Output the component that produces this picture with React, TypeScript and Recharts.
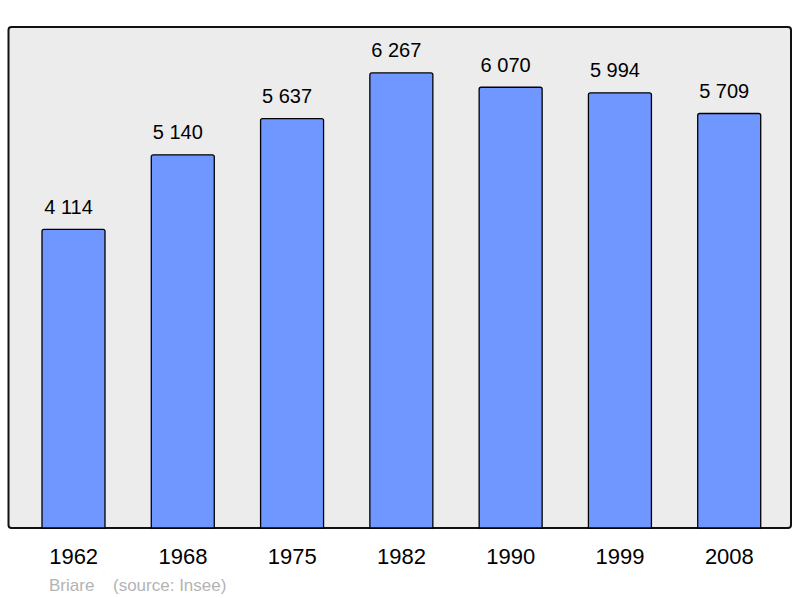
import React from 'react';
import { BarChart, Bar, XAxis, YAxis, CartesianGrid, LabelList, usePlotArea } from 'recharts';

const years = ['1962', '1968', '1975', '1982', '1990', '1999', '2008'];
const population = [4114, 5140, 5637, 6267, 6070, 5994, 5709];
const yDomain = [0, 6900];
const placeName = 'Briare';
const sourceText = '(source: Insee)';

const data = years.map((y, i) => ({ year: y, pop: population[i] }));

const fmt = (v: any) => String(v).replace(/\B(?=(\d{3})+(?!\d))/g, ' ');

const FONT = '"Liberation Sans", Arial, sans-serif';

function Frame() {
  const area = usePlotArea();
  if (!area) return null;
  return (
    <rect
      x={area.x - 0.5}
      y={area.y}
      width={area.width + 0.5}
      height={area.height}
      rx={3}
      ry={3}
      fill="none"
      stroke="#111"
      strokeWidth={2}
    />
  );
}

function Caption() {
  return (
    <text y={590.5} fontFamily={FONT} fontSize={17} fill="#b3b3b3">
      <tspan x={49}>{placeName}</tspan>
      <tspan x={113}>{sourceText}</tspan>
    </text>
  );
}

export default function App() {
  return (
    <div style={{ position: 'absolute', left: 0, top: 0, width: 800, height: 598, background: '#fff' }}>
      <BarChart
        width={800}
        height={598}
        data={data}
        margin={{ top: 27, right: 9, bottom: 30, left: 9 }}
        barSize={63}
      >
        <CartesianGrid fill="#ececec" horizontal={false} vertical={false} stroke="none" />
        <XAxis
          dataKey="year"
          axisLine={false}
          tickLine={false}
          tickSize={0}
          tickMargin={20.5}
          height={40}
          padding={{ left: 10, right: 7 }}
          tick={{ fontSize: 22, fill: '#000', fontFamily: FONT }}
          interval={0}
        />
        <YAxis hide domain={yDomain} />
        <Bar
          dataKey="pop"
          fill="#7096ff"
          stroke="#000"
          strokeWidth={1.3}
          radius={[2, 2, 0, 0]}
          isAnimationActive={false}
        >
          <LabelList
            dataKey="pop"
            position="top"
            offset={15.5}
            dx={-5}
            formatter={fmt}
            style={{ fontSize: 20, fill: '#000', fontFamily: FONT }}
          />
        </Bar>
        <Frame />
        <Caption />
      </BarChart>
    </div>
  );
}
